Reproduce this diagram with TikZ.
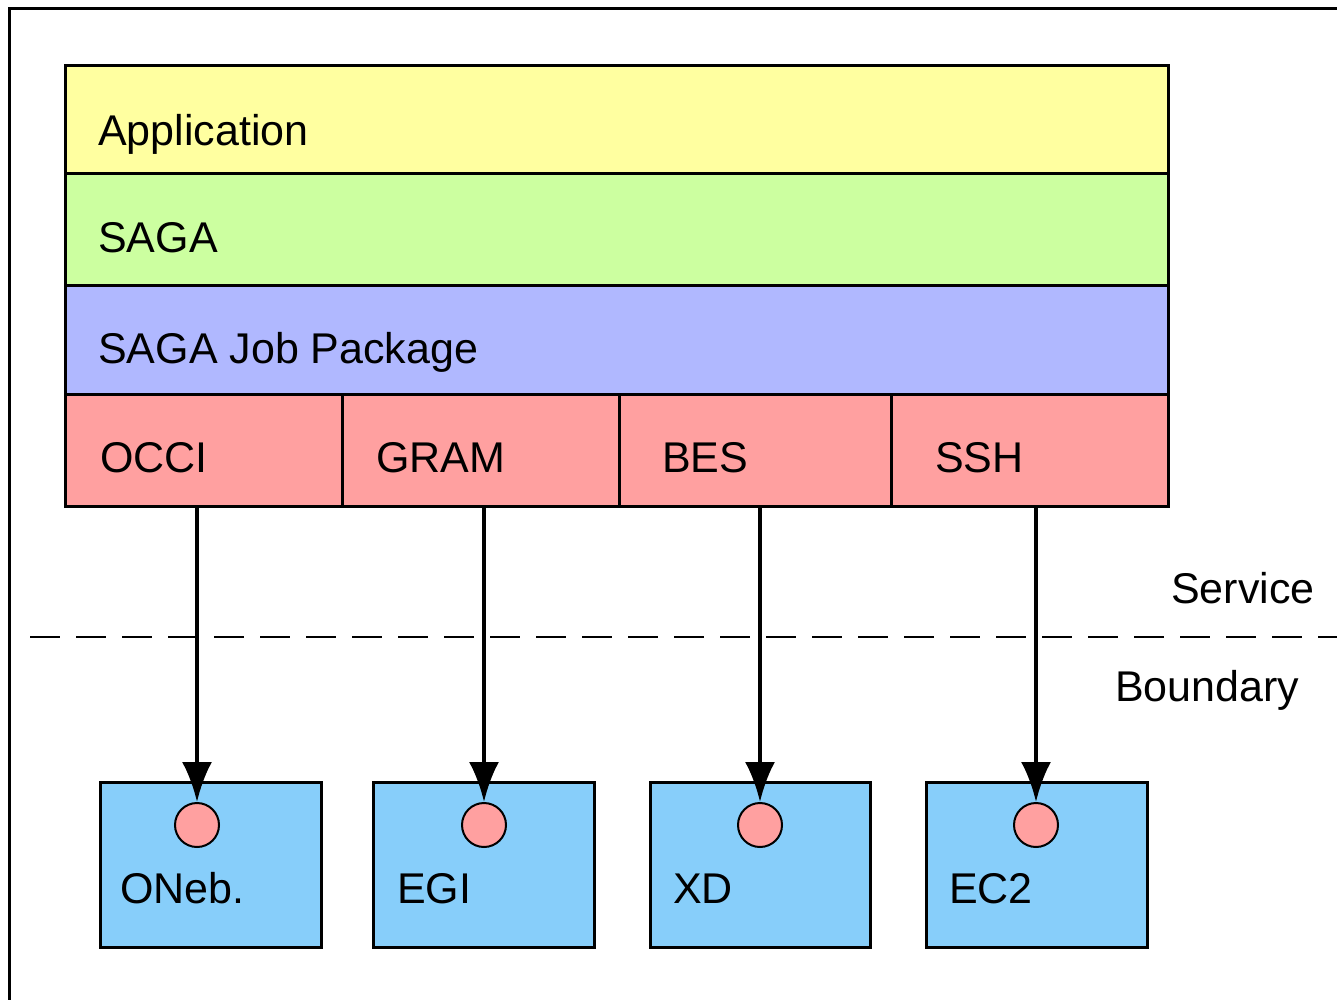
\documentclass[tikz,border=0pt]{standalone}
\usepackage{fontspec}
\setmainfont{Liberation Sans}
\usetikzlibrary{arrows.meta}
\definecolor{cyel}{RGB}{255,255,160}
\definecolor{cgrn}{RGB}{204,255,160}
\definecolor{cblu}{RGB}{176,184,255}
\definecolor{cpnk}{RGB}{255,160,160}
\definecolor{csky}{RGB}{135,206,250}
\tikzset{
  cell/.style={draw=black, line width=2.5pt, rectangle, inner sep=0pt, anchor=north west},
  lbl/.style={anchor=base west, inner sep=0pt, font=\fontsize{43}{50}\selectfont},
  port/.style={draw=black, line width=2pt, circle, fill=cpnk, minimum size=44pt, inner sep=0pt},
  conn/.style={line width=4pt, -{Latex[length=40pt,width=30pt]}},
}
\begin{document}
\begin{tikzpicture}[x=1pt,y=-1pt]
\useasboundingbox (0,0) rectangle (1337,999);
\fill[white] (0,0) rectangle (1337,999);
\draw[line width=3pt] (9,1010) -- (9,8) -- (1350,8);
% layers
\node[cell, fill=cyel, minimum width=1103pt, minimum height=108pt] (app) at (64,64) {};
\node[cell, fill=cgrn, minimum width=1103pt, minimum height=112pt] (saga) at (64,172) {};
\node[cell, fill=cblu, minimum width=1103pt, minimum height=109pt] (jobpkg) at (64,284) {};
\node[cell, fill=cpnk, minimum width=277pt, minimum height=112pt] (occi) at (64,393) {};
\node[cell, fill=cpnk, minimum width=277pt, minimum height=112pt] (gram) at (341,393) {};
\node[cell, fill=cpnk, minimum width=272pt, minimum height=112pt] (bes) at (618,393) {};
\node[cell, fill=cpnk, minimum width=277pt, minimum height=112pt] (ssh) at (890,393) {};
\node[lbl] (tapp) at (98,145) {Application};
\node[lbl] (tsaga) at (98,252) {SAGA};
\node[lbl] (tjob) at (98,363) {SAGA Job Package};
\node[lbl] (tocci) at (100,472) {OCCI};
\node[lbl] (tgram) at (376,472) {GRAM};
\node[lbl] (tbes) at (662,472) {BES};
\node[lbl] (tssh) at (935,472) {SSH};
% boundary
\draw[line width=2pt, dash pattern=on 30pt off 16pt] (30,637) -- (1337,637);
\node[lbl] (tserv) at (1171,603) {Service};
\node[lbl] (tbound) at (1115,701) {Boundary};
% resources
\node[cell, fill=csky, minimum width=221pt, minimum height=165pt] (oneb) at (99,781) {};
\node[cell, fill=csky, minimum width=221pt, minimum height=165pt] (egi) at (372,781) {};
\node[cell, fill=csky, minimum width=220pt, minimum height=165pt] (xd) at (649,781) {};
\node[cell, fill=csky, minimum width=221pt, minimum height=165pt] (ec2) at (925,781) {};
\node[lbl] (toneb) at (120,903) {ONeb.};
\node[lbl] (tegi) at (397,903) {EGI};
\node[lbl] (txd) at (673,903) {XD};
\node[lbl] (tec2) at (949,903) {EC2};
\node[port] (p1) at (197,825) {};
\node[port] (p2) at (484,825) {};
\node[port] (p3) at (760,825) {};
\node[port] (p4) at (1036,825) {};
\coordinate (s1) at (197,505);
\coordinate (s2) at (484,505);
\coordinate (s3) at (760,505);
\coordinate (s4) at (1036,505);
\draw[conn] (s1) -- (p1.north);
\draw[conn] (s2) -- (p2.north);
\draw[conn] (s3) -- (p3.north);
\draw[conn] (s4) -- (p4.north);
\end{tikzpicture}
\end{document}
